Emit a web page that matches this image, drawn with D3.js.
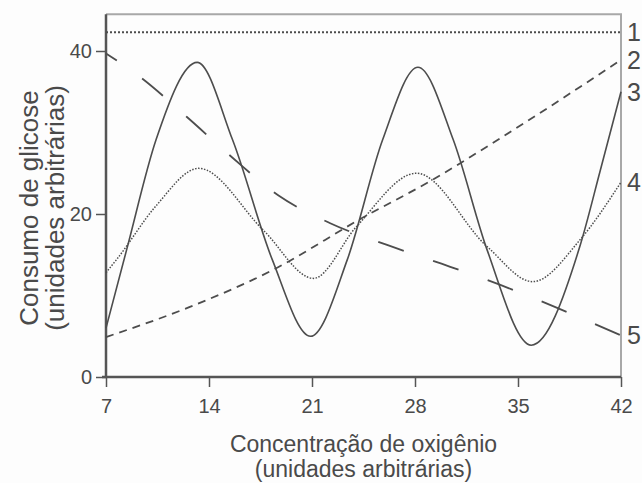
<!DOCTYPE html>
<html>
<head>
<meta charset="utf-8">
<script src="https://cdn.jsdelivr.net/npm/d3@7"></script>
<style>
  body { margin: 0; background: #fdfdfd; }
  svg { display: block; }
  text { font-family: "Liberation Sans", Arial, sans-serif; fill: #4a4a4a; }
</style>
</head>
<body>
<svg id="chart" width="642" height="483"></svg>
<script>
// Consumo de glicose x concentração de oxigênio

var xTicks = [7, 14, 21, 28, 35, 42];
var yTicks = [0, 20, 40];
var curveNames = ["1", "2", "3", "4", "5"];

// [oxigênio, glicose]
var curve1 = [[7, 42.3], [42, 42.3]];
var curve2 = [[7, 4.9], [12.7, 8.6], [18.3, 13.1], [24.4, 19.5], [29.2, 24.2], [33.8, 29.3], [42, 38.9]];
var curve3 = [[7, 6.0], [8.4, 15.6], [10.4, 29.1], [13.2, 38.6], [15.6, 29.1], [18.3, 14.4], [20.9, 5.0],
              [23.4, 14.4], [25.8, 29.1], [28.2, 38.0], [30.6, 29.1], [32.9, 15.6], [35.9, 3.9],
              [39.2, 16.0], [40.6, 25.4], [42, 35.0]];
var curve4 = [[7, 12.8], [7.8, 14.6], [10.4, 21.0], [13.3, 25.6], [17.7, 18.0], [21.1, 12.1],
              [24.0, 18.4], [28.1, 25.0], [32.9, 16.0], [36.0, 11.7], [39.2, 16.8], [42, 23.9]];
var curve5 = [[7, 39.7], [9.4, 36.7], [12.5, 31.9], [15.6, 26.9], [18.7, 22.3], [22.2, 18.9],
              [26.1, 16.2], [29.8, 13.9], [33.8, 11.3], [37.5, 8.6], [42, 5.1]];

var svg = d3.select("#chart");

var x = d3.scaleLinear().domain([7, 42]).range([106, 621]);
var y = d3.scaleLinear().domain([0, 40]).range([377, 51]);
var yTop = 44.5;

///////////////////////////////////////////////////////////////////////////////
// Frame and axes

svg.append("path")
  .attr("d", "M" + x(7) + "," + y(yTop) + "H" + x(42) + "V" + y(0))
  .attr("fill", "none")
  .attr("stroke", "#a8a8a8")
  .attr("stroke-width", 2);

var xAxis = svg.append("g")
  .attr("transform", "translate(0," + y(0) + ")")
  .call(d3.axisBottom(x).tickValues(xTicks).tickSize(10).tickPadding(12));

var yAxis = svg.append("g")
  .attr("transform", "translate(" + x(7) + ",0)")
  .call(d3.axisLeft(y).tickValues(yTicks).tickSize(10).tickPadding(4));

[xAxis, yAxis].forEach(function (g) {
  g.select(".domain").attr("stroke", "#555").attr("stroke-width", 2.5);
  g.selectAll(".tick line").attr("stroke", "#555").attr("stroke-width", 1.5);
  g.selectAll(".tick text").attr("fill", "#4a4a4a").style("font-size", "20px")
    .style("font-family", "'Liberation Sans', Arial, sans-serif");
});
// y axis reaches the top frame, x axis starts at the y axis
yAxis.select(".domain").attr("d", "M0," + y(0) + "V" + y(yTop));
xAxis.select(".domain").attr("d", "M" + (x(7) - 4) + ",0H" + x(42));

///////////////////////////////////////////////////////////////////////////////
// Curves

var line = d3.line()
  .x(function (d) { return x(d[0]); })
  .y(function (d) { return y(d[1]); })
  .curve(d3.curveMonotoneX);

var curves = [
  {data: curve1, dash: "2,2", width: 1.8},
  {data: curve2, dash: "8,6", width: 1.8},
  {data: curve3, dash: null, width: 1.6},
  {data: curve4, dash: "1.5,1.5", width: 1.5},
  {data: curve5, dash: "27,31", offset: 14, width: 1.8}
];

curves.forEach(function (c, i) {
  svg.append("path")
    .datum(c.data)
    .attr("d", line)
    .attr("fill", "none")
    .attr("stroke", "#4d4d4d")
    .attr("stroke-width", c.width)
    .attr("stroke-dasharray", c.dash)
    .attr("stroke-dashoffset", c.offset || 0);

  var last = c.data[c.data.length - 1];
  svg.append("text")
    .attr("x", x(42) + 6)
    .attr("y", y(last[1]))
    .attr("dy", "0.36em")
    .style("font-size", "25px")
    .text(curveNames[i]);
});

///////////////////////////////////////////////////////////////////////////////
// Titles

svg.append("text")
  .attr("text-anchor", "middle")
  .attr("x", (x(7) + x(42)) / 2)
  .attr("y", 452)
  .style("font-size", "23px")
  .text("Concentração de oxigênio");

svg.append("text")
  .attr("text-anchor", "middle")
  .attr("x", (x(7) + x(42)) / 2)
  .attr("y", 477)
  .style("font-size", "23px")
  .text("(unidades arbitrárias)");

var yTitle = svg.append("g")
  .attr("transform", "translate(38,208) rotate(-90)");

yTitle.append("text")
  .attr("text-anchor", "middle")
  .attr("y", 0)
  .style("font-size", "26px")
  .text("Consumo de glicose");

yTitle.append("text")
  .attr("text-anchor", "middle")
  .attr("y", 26)
  .style("font-size", "26px")
  .text("(unidades arbitrárias)");
</script>
</body>
</html>
